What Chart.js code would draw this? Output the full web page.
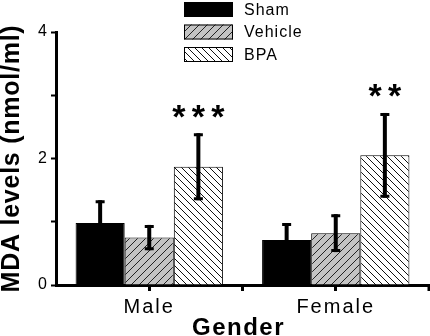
<!DOCTYPE html>
<html><head><meta charset="utf-8">
<script src="https://cdn.jsdelivr.net/npm/chart.js@4/dist/chart.umd.min.js"></script>
<style>html,body{margin:0;padding:0;background:#fff;}</style>
</head><body>
<canvas id="c" width="430" height="336" style="display:block;width:430px;height:336px"></canvas>
<script>
const categories = ['Male', 'Female'];
const seriesNames = ['Sham', 'Vehicle', 'BPA'];
const shamValues = [0.98, 0.71];
const shamErrors = [0.36, 0.27];
const vehicleValues = [0.75, 0.82];
const vehicleErrors = [0.20, 0.30];
const bpaValues = [1.87, 2.05];
const bpaErrors = [0.53, 0.67];
const bpaSignificance = ['***', '**'];
const yTickLabels = [0, 2, 4];
const yTitle = 'MDA levels (nmol/ml)';
const xTitle = 'Gender';

const FONT = '"Liberation Sans", Arial, sans-serif';
const canvas = document.getElementById('c');
const ctx = canvas.getContext('2d');

function hatch(bg, dir, size, lineColor) {
  const c = document.createElement('canvas');
  c.width = c.height = size;
  const x = c.getContext('2d');
  x.fillStyle = bg; x.fillRect(0, 0, size, size);
  x.strokeStyle = lineColor; x.lineWidth = 1;
  x.beginPath();
  if (dir === '/') {
    x.moveTo(0, size); x.lineTo(size, 0);
    x.moveTo(-1, 1); x.lineTo(1, -1);
    x.moveTo(size - 1, size + 1); x.lineTo(size + 1, size - 1);
  } else {
    x.moveTo(0, 0); x.lineTo(size, size);
    x.moveTo(size - 1, -1); x.lineTo(size + 1, 1);
    x.moveTo(-1, size - 1); x.lineTo(1, size + 1);
  }
  x.stroke();
  return ctx.createPattern(c, 'repeat');
}

const vehiclePattern = hatch('#c3c3c3', '/', 8, '#222');
const bpaPattern = hatch('#ffffff', '\\', 7, '#111');

const errorsByDataset = [shamErrors, vehicleErrors, bpaErrors];
const sigByDataset = [null, null, bpaSignificance];

function patchSpacing(scale, labelSpacing, titleSpacing, titleDx, titleDy) {
  if (scale._patchedSpacing) return;
  scale._patchedSpacing = true;
  const dl = scale.drawLabels.bind(scale);
  const dt = scale.drawTitle.bind(scale);
  scale.drawLabels = function (ca) { const c = this.ctx; c.save(); c.letterSpacing = labelSpacing; dl(ca); c.restore(); };
  scale.drawTitle = function (ca) { const c = this.ctx; c.save(); c.letterSpacing = titleSpacing; c.translate(titleDx, titleDy); dt(ca); c.restore(); };
}

const extras = {
  id: 'extras',
  afterDatasetsDraw(chart) {
    const c = chart.ctx;
    const y = chart.scales.y;
    chart.data.datasets.forEach((ds, di) => {
      const meta = chart.getDatasetMeta(di);
      const errs = errorsByDataset[di];
      meta.data.forEach((bar, i) => {
        const v = ds.data[i], e = errs[i];
        const top = y.getPixelForValue(v + e);
        const bot = y.getPixelForValue(v - e);
        c.save();
        c.strokeStyle = '#000';
        c.lineWidth = 4;
        c.beginPath(); c.moveTo(bar.x, top); c.lineTo(bar.x, bot); c.stroke();
        c.lineWidth = 3;
        c.beginPath();
        c.moveTo(bar.x - 4.5, top + 1.5); c.lineTo(bar.x + 4.5, top + 1.5);
        c.moveTo(bar.x - 4.5, bot - 1.5); c.lineTo(bar.x + 4.5, bot - 1.5);
        c.stroke();
        const sig = sigByDataset[di];
        if (sig && sig[i]) {
          c.font = 'bold 34px ' + FONT;
          c.fillStyle = '#000';
          c.textAlign = 'center';
          c.textBaseline = 'alphabetic';
          const m = c.measureText('*');
          const cy = top - 22;
          const by = cy + (m.actualBoundingBoxAscent - m.actualBoundingBoxDescent) / 2;
          const n = sig[i].length;
          for (let k = 0; k < n; k++) {
            c.fillText('*', bar.x + (k - (n - 1) / 2) * 19.5, by);
          }
        }
        c.restore();
      });
    });
  },
  afterDraw(chart) {
    const c = chart.ctx;
    const xs = chart.scales.x;
    c.save();
    c.strokeStyle = '#000';
    c.lineWidth = 3;
    c.beginPath();
    for (let i = 0; i < categories.length; i++) {
      const px = xs.getPixelForValue(i + 0.5);
      c.moveTo(px, xs.top); c.lineTo(px, xs.top + 6);
    }
    c.stroke();
    // legend
    c.font = '16px ' + FONT;
    c.letterSpacing = '1px';
    c.textAlign = 'left';
    c.textBaseline = 'middle';
    chart.data.datasets.forEach((ds, di) => {
      const bx = 184, by = 2 + di * 22.5, bw = 49, bh = 15;
      c.fillStyle = ds.backgroundColor;
      c.fillRect(bx, by, bw, bh);
      c.lineWidth = 1;
      c.strokeStyle = '#000';
      c.strokeRect(bx + 0.5, by + 0.5, bw - 1, bh - 1);
      c.fillStyle = '#000';
      c.fillText(ds.label, 244, by + bh / 2 + 1);
    });
    c.restore();
  }
};

new Chart(ctx, {
  type: 'bar',
  data: {
    labels: categories,
    datasets: [
      { label: seriesNames[0], data: shamValues, backgroundColor: '#000', borderColor: '#000', borderWidth: 1 },
      { label: seriesNames[1], data: vehicleValues, backgroundColor: vehiclePattern, borderColor: '#000', borderWidth: 1 },
      { label: seriesNames[2], data: bpaValues, backgroundColor: bpaPattern, borderColor: '#000', borderWidth: 1 }
    ]
  },
  options: {
    responsive: false,
    animation: false,
    devicePixelRatio: 1,
    layout: { padding: { left: 0, right: 1, top: 32, bottom: 0 } },
    datasets: { bar: { categoryPercentage: 0.79, barPercentage: 1.0 } },
    plugins: { legend: { display: false }, tooltip: { enabled: false } },
    scales: {
      x: {
        grid: { display: true, drawOnChartArea: false, offset: false, tickLength: 6, tickWidth: 3, tickColor: '#000', color: '#000' },
        border: { display: true, width: 3, color: '#000' },
        ticks: { color: '#000', font: { family: FONT, size: 20, lineHeight: 1.2 }, padding: 4 },
        title: { display: true, text: xTitle, color: '#000', font: { family: FONT, size: 24, weight: 'bold', lineHeight: 1 }, padding: { top: 0, bottom: 0 } },
        afterFit(scale) { scale.height = 51; },
        afterUpdate(scale) { patchSpacing(scale, '2px', '1.5px', -4, 4); }
      },
      y: {
        min: 0, max: 4,
        grid: { display: true, drawOnChartArea: false, tickLength: 5, tickWidth: 2, tickColor: '#000', color: '#000' },
        border: { display: true, width: 3, color: '#000' },
        ticks: {
          stepSize: 1, color: '#000', padding: 4,
          font: { family: FONT, size: 16 },
          callback: (v) => yTickLabels.includes(v) ? String(v) : ''
        },
        title: { display: true, text: yTitle, color: '#000', font: { family: FONT, size: 25, weight: 'bold', lineHeight: 1 }, padding: { top: 0, bottom: 0 } },
        afterFit(scale) { scale.width = 56; },
        afterUpdate(scale) { patchSpacing(scale, '0px', '0.75px', 0, 0); }
      }
    }
  },
  plugins: [extras]
});
</script>
</body></html>
